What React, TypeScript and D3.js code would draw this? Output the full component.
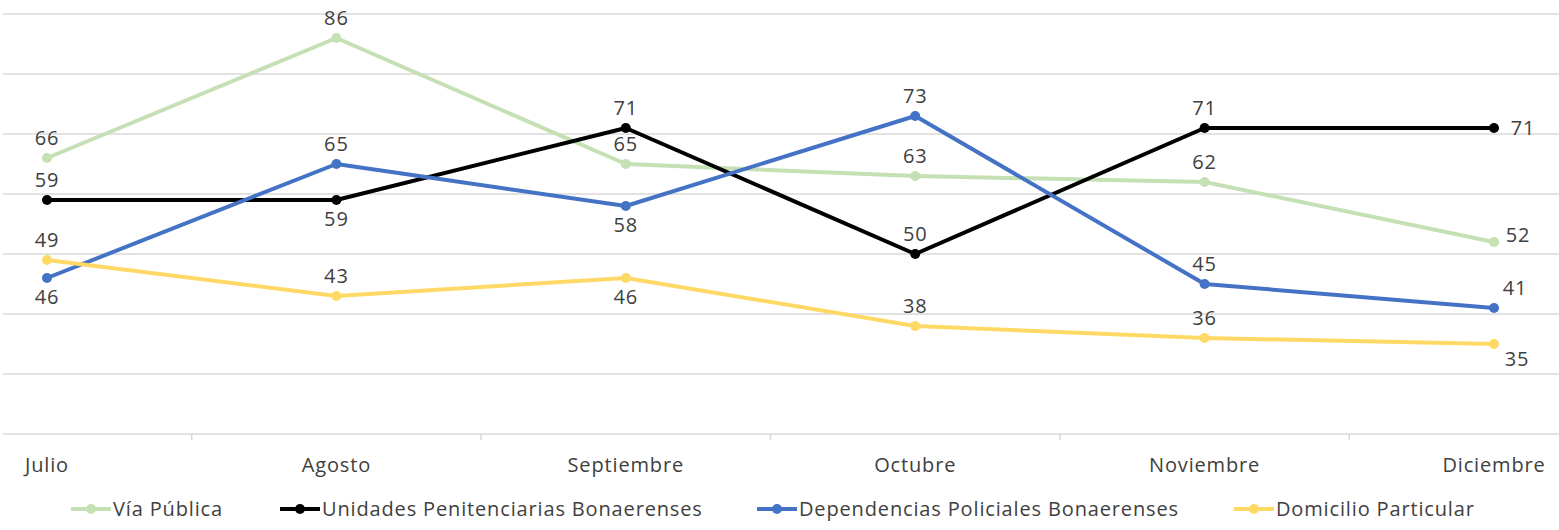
import React from "react";
import * as d3 from "d3";

const categories = ["Julio", "Agosto", "Septiembre", "Octubre", "Noviembre", "Diciembre"];
const seriesNames = [
  "Vía Pública",
  "Unidades Penitenciarias Bonaerenses",
  "Dependencias Policiales Bonaerenses",
  "Domicilio Particular",
];
const viaPublica = [66, 86, 65, 63, 62, 52];
const unidades = [59, 59, 71, 50, 71, 71];
const dependencias = [46, 65, 58, 73, 45, 41];
const domicilio = [49, 43, 46, 38, 36, 35];
const yTicks = [20, 30, 40, 50, 60, 70, 80, 90];

// label placement per point
const viaPos = ["above", "above", "above", "above", "above", "rightUp"];
const uniPos = ["above", "below", "above", "above", "above", "right"];
const depPos = ["below", "above", "below", "above", "above", "rightAbove"];
const domPos = ["above", "above", "below", "above", "above", "rightBelow"];

const colors = ["#c5e0b4", "#000000", "#4472c4", "#ffd966"];

const W = 1559;
const H = 530;
const FONT = "'Open Sans', sans-serif";
const TEXT = "#404040";
const FS = 20;
const LS = 0.85;

export default function App() {
  const x = d3.scalePoint<string>().domain(categories).range([47, 1494]);
  const y = d3.scaleLinear().domain([20, 90]).range([434, 14]);
  const series = [
    { name: seriesNames[0], values: viaPublica, pos: viaPos, color: colors[0] },
    { name: seriesNames[1], values: unidades, pos: uniPos, color: colors[1] },
    { name: seriesNames[2], values: dependencias, pos: depPos, color: colors[2] },
    { name: seriesNames[3], values: domicilio, pos: domPos, color: colors[3] },
  ];
  const line = d3
    .line<number>()
    .x((_, i) => x(categories[i]) as number)
    .y((v) => y(v));
  const step = x.step();
  const midTicks = categories.slice(0, -1).map((c) => (x(c) as number) + step / 2);

  const labelOffset = (p: string) => {
    switch (p) {
      case "above":
        return [0, -20];
      case "below":
        return [0, 19];
      case "right":
        return [29, 0];
      case "rightUp":
        return [24, -7];
      case "rightAbove":
        return [21, -20];
      case "rightBelow":
        return [23, 15];
      default:
        return [0, 0];
    }
  };

  const legendX = [71, 280, 757, 1234];

  return (
    <svg
      width={W}
      height={H}
      style={{ position: "absolute", left: 0, top: 0, background: "#fff" }}
      fontFamily={FONT}
      letterSpacing={LS}
    >
      {yTicks.map((t) => (
        <line key={t} x1={3} x2={1559} y1={y(t)} y2={y(t)} stroke="#d9d9d9" strokeWidth={1.5} />
      ))}
      {midTicks.map((mx, i) => (
        <line key={i} x1={mx} x2={mx} y1={y(20)} y2={y(20) + 6} stroke="#d9d9d9" strokeWidth={1.5} />
      ))}
      {categories.map((c) => (
        <text key={c} x={x(c)} y={472} textAnchor="middle" fontSize={FS} fill={TEXT}>
          {c}
        </text>
      ))}
      {series.map((s) => (
        <g key={s.name}>
          <path d={line(s.values) || ""} fill="none" stroke={s.color} strokeWidth={4} strokeLinejoin="round" />
          {s.values.map((v, i) => (
            <circle key={i} cx={x(categories[i])} cy={y(v)} r={5} fill={s.color} />
          ))}
        </g>
      ))}
      {series.map((s) => (
        <g key={s.name + "-labels"}>
          {s.values.map((v, i) => {
            const [dx, dy] = labelOffset(s.pos[i]);
            return (
              <text
                key={i}
                x={(x(categories[i]) as number) + dx}
                y={y(v) + dy}
                dy="0.35em"
                textAnchor="middle"
                fontSize={FS}
                fill={TEXT}
              >
                {v}
              </text>
            );
          })}
        </g>
      ))}
      {series.map((s, i) => (
        <g key={s.name + "-legend"} transform={`translate(${legendX[i]},509)`}>
          <line x1={0} x2={40} y1={0} y2={0} stroke={s.color} strokeWidth={4} />
          <circle cx={20} cy={0} r={5} fill={s.color} />
          <text x={42} y={0} dy="0.35em" fontSize={FS} fill={TEXT}>
            {s.name}
          </text>
        </g>
      ))}
    </svg>
  );
}
